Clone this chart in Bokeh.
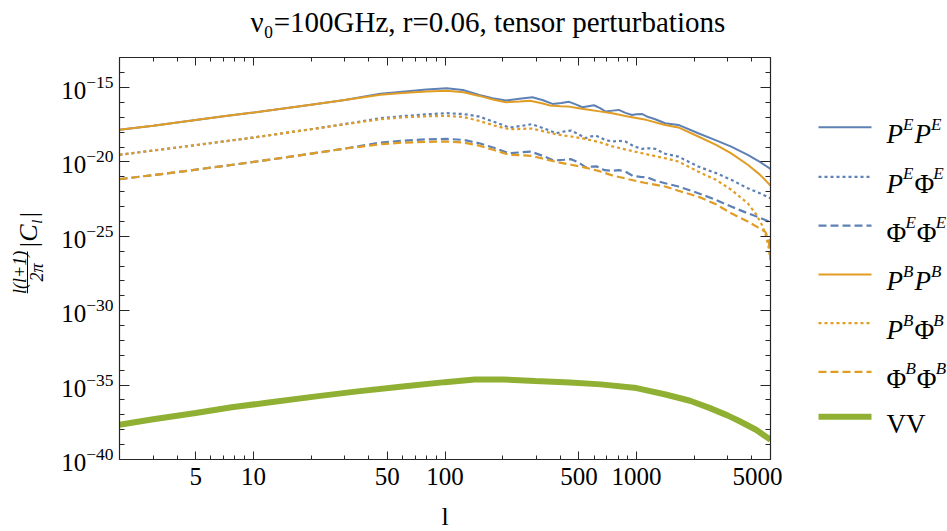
import math
from bokeh.plotting import figure
from bokeh.layouts import row
from bokeh.models import (LogAxis, FixedTicker, Range1d, CustomJSTickFormatter)
from bokeh.core.properties import value
from bokeh.embed import file_html
from bokeh.resources import INLINE

# ---------------- data (log10 of l(l+1)/2pi |C_l|) ----------------
ell_PEPE = [2, 3, 5, 7, 10, 15, 20, 30, 46, 60, 80, 102, 124, 151, 177, 208, 245, 286, 325,
            364, 405, 444, 485, 521, 560, 599, 645, 689, 750, 807, 875, 946, 1000, 1066,
            1150, 1252, 1409, 1653, 2099, 2600, 3119, 3805, 4400, 5000]
log_PEPE = [-17.84, -17.56, -17.18, -16.93, -16.68, -16.38, -16.15, -15.83, -15.42, -15.28,
            -15.13, -15.05, -15.16, -15.49, -15.72, -15.87, -15.75, -15.65, -15.85, -16.10,
            -16.03, -15.96, -16.15, -16.32, -16.25, -16.19, -16.38, -16.61, -16.55, -16.50,
            -16.70, -16.84, -16.79, -16.77, -16.98, -17.13, -17.40, -17.51, -18.07, -18.55,
            -18.97, -19.52, -20.00, -20.47]

ell_PEFE = [2, 3, 5, 7, 10, 15, 20, 30, 46, 60, 80, 102, 125, 151, 180, 217, 250, 283, 330,
            380, 420, 455, 500, 540, 580, 615, 680, 746, 810, 874, 970, 1066, 1160, 1252,
            1409, 1653, 2099, 2600, 3119, 3805, 4400, 5000]
log_PEFE = [-19.52, -19.23, -18.87, -18.62, -18.36, -18.03, -17.80, -17.45, -17.06, -16.92,
            -16.80, -16.72, -16.78, -16.95, -17.30, -17.69, -17.58, -17.46, -17.75, -18.07,
            -17.95, -17.89, -18.15, -18.40, -18.28, -18.23, -18.50, -18.63, -18.58, -18.63,
            -18.95, -19.12, -19.08, -19.12, -19.45, -19.64, -20.31, -20.75, -21.20, -21.77,
            -22.10, -22.44]

ell_FEFE = [2, 3, 5, 7, 10, 15, 20, 30, 46, 60, 80, 102, 125, 151, 180, 217, 250, 280, 325,
            370, 420, 455, 500, 540, 580, 620, 680, 746, 810, 874, 960, 1050, 1150, 1250,
            1409, 1653, 2099, 2600, 3119, 3805, 4400, 5000]
log_FEFE = [-21.16, -20.88, -20.52, -20.27, -20.00, -19.68, -19.44, -19.10, -18.70, -18.57,
            -18.48, -18.45, -18.52, -18.74, -19.05, -19.42, -19.35, -19.30, -19.60, -19.90,
            -19.85, -19.81, -20.05, -20.35, -20.32, -20.30, -20.55, -20.60, -20.55, -20.65,
            -20.95, -21.00, -21.05, -21.25, -21.43, -21.65, -22.10, -22.55, -23.00, -23.45,
            -23.75, -24.05]

ell_PBPB = [2, 3, 5, 7, 10, 15, 20, 30, 46, 60, 80, 102, 125, 151, 180, 208, 245, 278, 320,
            354, 400, 444, 490, 540, 640, 746, 900, 1122, 1409, 1653, 2099, 2600, 3119, 3805,
            4400, 5000]
log_PBPB = [-17.84, -17.56, -17.18, -16.93, -16.68, -16.38, -16.15, -15.83, -15.49, -15.36,
            -15.26, -15.22, -15.32, -15.56, -15.82, -15.98, -15.93, -15.89, -16.05, -16.21,
            -16.25, -16.28, -16.37, -16.46, -16.60, -16.73, -16.95, -17.17, -17.51, -17.68,
            -18.29, -18.85, -19.42, -20.19, -20.85, -21.59]

ell_PBFB = [2, 3, 5, 7, 10, 15, 20, 30, 46, 60, 80, 102, 125, 151, 180, 217, 250, 283, 330,
            380, 455, 540, 640, 746, 900, 1100, 1409, 1653, 2099, 2600, 3119, 3805, 4200,
            4500, 4750, 4900, 5000]
log_PBFB = [-19.52, -19.23, -18.87, -18.62, -18.36, -18.03, -17.80, -17.47, -17.13, -17.00,
            -16.93, -16.90, -16.98, -17.24, -17.55, -17.80, -17.78, -17.75, -17.95, -18.14,
            -18.29, -18.45, -18.67, -18.95, -19.20, -19.45, -19.75, -19.97, -20.65, -21.20,
            -21.87, -22.78, -23.50, -24.20, -25.00, -25.80, -26.60]

ell_FBFB = [2, 3, 5, 7, 10, 15, 20, 30, 46, 60, 80, 102, 125, 151, 180, 217, 250, 283, 330,
            380, 455, 540, 640, 746, 900, 1100, 1409, 1653, 2099, 2600, 3119, 3805, 4300,
            4700, 4900, 5000]
log_FBFB = [-21.16, -20.88, -20.52, -20.27, -20.00, -19.68, -19.44, -19.10, -18.81, -18.70,
            -18.65, -18.63, -18.70, -18.90, -19.20, -19.52, -19.55, -19.59, -19.80, -19.99,
            -20.19, -20.38, -20.62, -20.90, -21.15, -21.40, -21.65, -21.94, -22.33, -22.85,
            -23.45, -24.00, -24.40, -24.70, -25.20, -26.70]

ell_VV = [2, 3, 5, 7.7, 12, 21.8, 35, 61.8, 100, 143, 200, 296, 450, 650, 1000, 1416, 1900,
          2398, 3000, 3452, 4200, 5000]
log_VV = [-37.66, -37.30, -36.87, -36.49, -36.17, -35.74, -35.42, -35.07, -34.80, -34.62,
          -34.62, -34.73, -34.82, -34.95, -35.20, -35.63, -36.05, -36.53, -37.05, -37.43,
          -38.00, -38.67]

x_major = [5, 10, 50, 100, 500, 1000, 5000]
x_minor = [2, 3, 4, 6, 7, 8, 9, 20, 30, 40, 60, 70, 80, 90, 200, 300, 400, 600, 700, 800,
           900, 2000, 3000, 4000]
y_major = [1e-40, 1e-35, 1e-30, 1e-25, 1e-20, 1e-15]
y_minor = [10.0 ** e for e in range(-40, -12)]

title_text = "\u03bd\u2080=100GHz, r=0.06, tensor perturbations"
# legend labels: (text, is_superscript) pieces
legend_labels = [
    [("P", 0), ("E", 1), ("P", 0), ("E", 1)],
    [("P", 0), ("E", 1), ("\u03a6", 0), ("E", 1)],
    [("\u03a6", 0), ("E", 1), ("\u03a6", 0), ("E", 1)],
    [("P", 0), ("B", 1), ("P", 0), ("B", 1)],
    [("P", 0), ("B", 1), ("\u03a6", 0), ("B", 1)],
    [("\u03a6", 0), ("B", 1), ("\u03a6", 0), ("B", 1)],
    [("VV", 0)],
]

# ---------------- styling ----------------
FONT = "Liberation Serif"
BLUE = "#5E81B5"
ORANGE = "#E19C24"
GREEN = "#8FB032"
AXC = "#262626"
H = 531
TOP, BOT = 56, 73           # frame spans screen y 56..458
W_LAB = 50                  # y-label strip
W_MAIN = 69 + 651 + 12
W_LEG = 947 - W_LAB - W_MAIN

styles = [
    dict(line_color=BLUE, line_width=2),
    dict(line_color=BLUE, line_width=2.2, line_dash="3 3"),
    dict(line_color=BLUE, line_width=2.2, line_dash="8 4"),
    dict(line_color=ORANGE, line_width=2),
    dict(line_color=ORANGE, line_width=2.2, line_dash="3 3"),
    dict(line_color=ORANGE, line_width=2.2, line_dash="8 4"),
    dict(line_color=GREEN, line_width=6),
]

# ---------------- main plot ----------------
p = figure(x_axis_type="log", y_axis_type="log",
           x_range=Range1d(2, 5000), y_range=Range1d(1e-40, 1.05e-13),
           frame_width=651, frame_height=H - TOP - BOT,
           min_border_left=69, min_border_right=12, min_border_top=TOP,
           min_border_bottom=BOT, output_backend="svg", toolbar_location=None)
p.grid.visible = False
p.outline_line_color = None
p.border_fill_color = "white"

def style_axis(ax, major, minor, show_labels):
    ax.ticker = FixedTicker(ticks=major, minor_ticks=minor)
    ax.major_tick_in = 10
    ax.major_tick_out = 0
    ax.minor_tick_in = 5
    ax.minor_tick_out = 0
    ax.axis_line_color = AXC
    ax.major_tick_line_color = AXC
    ax.minor_tick_line_color = AXC
    ax.axis_line_width = 1.2
    ax.major_label_text_font = FONT
    ax.major_label_text_color = "black"
    if show_labels:
        ax.major_label_text_font_size = "25px"
    else:
        ax.formatter = CustomJSTickFormatter(code="return '';")
        ax.major_label_text_font_size = "8px"
        ax.major_label_standoff = 0

xa = p.xaxis[0]
ya = p.yaxis[0]
style_axis(xa, x_major, x_minor, True)
style_axis(ya, y_major, y_minor, True)
xa.major_tick_in = 8
xa.minor_tick_in = 4
xa.formatter = CustomJSTickFormatter(code="return tick.toFixed(0);")
xa.major_label_standoff = 8
xa.axis_label = "l"
xa.axis_label_text_font = FONT
xa.axis_label_text_font_size = "26px"
xa.axis_label_text_font_style = "normal"
xa.axis_label_text_color = "black"
xa.axis_label_standoff = 14
ya.major_label_standoff = 6

# top frame axis; its blank label lifts the title into place
top = LogAxis()
style_axis(top, x_major, x_minor, False)
top.major_tick_in = 8
top.minor_tick_in = 4
top.axis_label = " "
top.axis_label_text_font_size = "10px"
top.axis_label_standoff = 3
p.add_layout(top, "above")
right = LogAxis()
style_axis(right, y_major, y_minor, False)
p.add_layout(right, "right")

p.title.text = title_text
p.title.text_font = FONT
p.title.text_font_size = "29px"
p.title.text_font_style = "normal"
p.title.text_color = "black"
p.title.align = "left"
p.title.offset = 131
p.title.standoff = 6

def vals(logs):
    return [10.0 ** v for v in logs]

series = [(ell_PEPE, log_PEPE), (ell_PEFE, log_PEFE), (ell_FEFE, log_FEFE),
          (ell_PBPB, log_PBPB), (ell_PBFB, log_PBFB), (ell_FBFB, log_FBFB),
          (ell_VV, log_VV)]
for (ell, lg), st in zip(series, styles):
    p.line(ell, vals(lg), **st)

def strip(width, x_start):
    f = figure(width=width, height=H, x_range=Range1d(x_start, x_start + width),
               y_range=Range1d(H - BOT, TOP), x_axis_location=None,
               y_axis_location=None, min_border_left=0, min_border_right=0,
               min_border_top=TOP, min_border_bottom=BOT,
               output_backend="svg", toolbar_location=None)
    f.grid.visible = False
    f.outline_line_color = None
    return f

# ---------------- y-axis label strip ----------------
p0 = strip(W_LAB, 0)
rot = math.pi / 2
def ytext(x, y, t, size, style):
    p0.text(x=[x], y=[y], text=[t], angle=rot, text_align="center",
            text_baseline="middle", text_font=value(FONT), text_font_size=size,
            text_font_style=style, text_color="black")
ytext(19, 272, "l(l+1)", "18px", "italic")
p0.segment(x0=[27], y0=[251], x1=[27], y1=[293], line_color="black", line_width=1)
ytext(36, 272, "2\u03c0", "18px", "italic")
ytext(28, 236, "|C", "26px", "italic")
ytext(36, 221, "l", "15px", "italic")
ytext(28, 214, "|", "26px", "normal")

# ---------------- legend strip ----------------
x0 = W_LAB + W_MAIN
p2 = strip(W_LEG, x0)

row_y = [126, 176, 225, 274, 323, 372, 417]
EM = {"P": 0.611, "E": 0.611, "B": 0.611, "\u03a6": 0.70, "VV": 1.444}
BASE, SUP = 27, 17
parts = {"bi": ([], [], []), "bn": ([], [], []), "s": ([], [], [])}
for y, pieces, st in zip(row_y, legend_labels, styles):
    p2.line([818, 871], [y, y], **st)
    x = 886
    for txt, sup in pieces:
        if sup:
            key, size, dy = "s", SUP, -10
        else:
            key, size, dy = ("bi" if txt == "P" else "bn"), BASE, 0
        parts[key][0].append(x)
        parts[key][1].append(y + 7 + dy)
        parts[key][2].append(txt)
        x += EM[txt] * size + (1 if sup else 0)

for key, size, style in (("bi", BASE, "italic"), ("bn", BASE, "normal"),
                         ("s", SUP, "italic")):
    xs, ys, ts = parts[key]
    p2.text(x=xs, y=ys, text=ts, text_font=value(FONT), text_font_size=f"{size}px",
            text_font_style=style, text_baseline="alphabetic", text_align="left",
            text_color="black")

layout = row(p0, p, p2, spacing=0)
open("out.html", "w").write(file_html(layout, INLINE))
